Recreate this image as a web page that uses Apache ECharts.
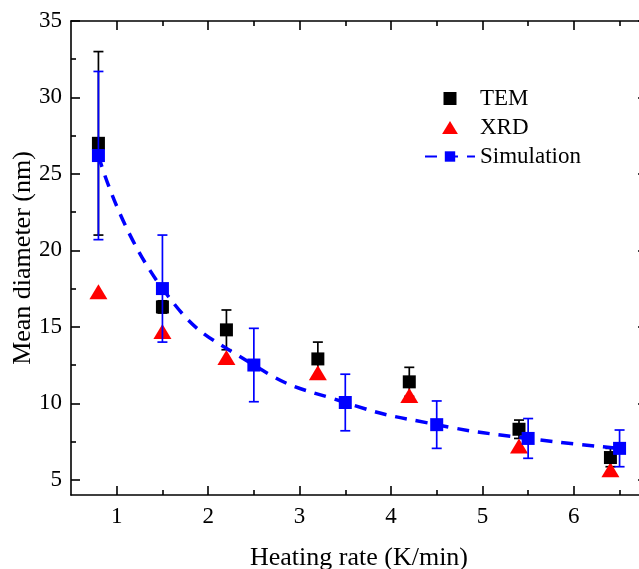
<!DOCTYPE html>
<html>
<head>
<meta charset="utf-8">
<script src="https://cdn.jsdelivr.net/npm/echarts@6/dist/echarts.min.js"></script>
<style>
  html, body { margin: 0; padding: 0; background: #fff; }
  #chart { width: 639px; height: 569px; }
</style>
</head>
<body>
<div id="chart"></div>
<script>
const rateExp = [0.8, 1.5, 2.2, 3.2, 4.2, 5.4, 6.4];
const temSize = [27.0, 16.3, 14.8, 12.9, 11.4, 8.3, 6.45];
const temErr = [6.0, 0.4, 1.3, 1.1, 0.95, 0.6, 0.6];
const xrdSize = [17.3, 14.7, 13.0, 12.0, 10.5, 7.2, 5.65];

const rateSim = [0.8, 1.5, 2.5, 3.5, 4.5, 5.5, 6.5];
const simSize = [26.2, 17.5, 12.5, 10.05, 8.6, 7.7, 7.05];
const simErr = [5.5, 3.5, 2.4, 1.85, 1.55, 1.3, 1.2];

const xTicks = [1, 2, 3, 4, 5, 6];
const xMinorTicks = [1.5, 2.5, 3.5, 4.5, 5.5, 6.5];
const yTicks = [5, 10, 15, 20, 25, 30, 35];
const yMinorTicks = [7.5, 12.5, 17.5, 22.5, 27.5, 32.5];

const font = 'Liberation Serif';
const squareIcon = 'path://M0,0 L12,0 L12,12 L0,12 Z';
const triangleIcon = 'path://M8.5,0 L17,14 L0,14 Z';

function pairs(xs, ys) {
  return xs.map((x, i) => [x, ys[i]]);
}
function errRows(xs, ys, es) {
  return xs.map((x, i) => [x, ys[i] - es[i], ys[i] + es[i]]);
}

function errorBars(color) {
  return function (params, api) {
    const x = api.value(0);
    const top = api.coord([x, api.value(2)]);
    const bot = api.coord([x, api.value(1)]);
    const w = 5;
    const style = { stroke: color, lineWidth: 1.7 };
    return {
      type: 'group',
      children: [
        { type: 'line', shape: { x1: top[0], y1: top[1], x2: bot[0], y2: bot[1] }, style: style },
        { type: 'line', shape: { x1: top[0] - w, y1: top[1], x2: top[0] + w, y2: top[1] }, style: style },
        { type: 'line', shape: { x1: bot[0] - w, y1: bot[1], x2: bot[0] + w, y2: bot[1] }, style: style }
      ]
    };
  };
}

function xAxisDef(position, major, withLabels) {
  return {
    type: 'value',
    position: position,
    min: 0.5,
    max: 6.8,
    offset: 0,
    name: withLabels ? 'Heating rate (K/min)' : '',
    nameLocation: 'middle',
    nameGap: 50,
    nameMoveOverlap: false,
    nameTextStyle: { fontFamily: font, fontSize: 26, color: '#000' },
    axisLine: { show: major, onZero: false, lineStyle: { color: '#000', width: 1.6 } },
    axisTick: {
      show: true,
      inside: true,
      length: major ? 9 : 5,
      customValues: major ? xTicks : xMinorTicks,
      lineStyle: { color: '#000', width: 1.6 }
    },
    axisLabel: {
      show: withLabels,
      customValues: xTicks,
      margin: 10,
      fontFamily: font,
      fontSize: 23,
      color: '#000'
    },
    splitLine: { show: false }
  };
}

function yAxisDef(position, major, withLabels) {
  return {
    type: 'value',
    position: position,
    min: 4,
    max: 35,
    offset: 0,
    name: withLabels ? 'Mean diameter (nm)' : '',
    nameLocation: 'middle',
    nameGap: 35,
    nameMoveOverlap: false,
    nameTextStyle: { fontFamily: font, fontSize: 26, color: '#000' },
    axisLine: { show: major, onZero: false, lineStyle: { color: '#000', width: 1.6 } },
    axisTick: {
      show: true,
      inside: true,
      length: major ? 9 : 5,
      customValues: major ? yTicks : yMinorTicks,
      lineStyle: { color: '#000', width: 1.6 }
    },
    axisLabel: {
      show: withLabels,
      customValues: yTicks,
      margin: 9,
      fontFamily: font,
      fontSize: 23,
      color: '#000'
    },
    splitLine: { show: false }
  };
}

const myChart = echarts.init(document.getElementById('chart'), null, { renderer: 'canvas' });

const option = {
  backgroundColor: '#fff',
  animation: false,
  grid: { left: 71, right: -8, top: 21, bottom: 74, containLabel: false, outerBoundsMode: 'none' },
  legend: {
    data: [
      { name: 'TEM', icon: squareIcon },
      { name: 'XRD', icon: triangleIcon },
      { name: 'Simulation' }
    ],
    orient: 'vertical',
    left: 419,
    top: 82,
    itemWidth: 50,
    itemHeight: 13,
    itemGap: 6,
    symbolKeepAspect: true,
    textStyle: { fontFamily: font, fontSize: 23, color: '#000' }
  },
  xAxis: [
    xAxisDef('bottom', true, true),
    xAxisDef('bottom', false, false),
    xAxisDef('top', true, false),
    xAxisDef('top', false, false)
  ],
  yAxis: [
    yAxisDef('left', true, true),
    yAxisDef('left', false, false),
    yAxisDef('right', true, false),
    yAxisDef('right', false, false)
  ],
  series: [
    {
      name: 'XRD',
      type: 'scatter',
      symbol: 'triangle',
      symbolSize: [18, 15],
      itemStyle: { color: '#ff0000', opacity: 1 },
      data: pairs(rateExp, xrdSize),
      z: 2
    },
    {
      name: 'TEM',
      type: 'scatter',
      symbol: 'rect',
      symbolSize: 13,
      itemStyle: { color: '#000', opacity: 1 },
      data: pairs(rateExp, temSize),
      z: 2
    },
    {
      name: 'TEM err',
      type: 'custom',
      renderItem: errorBars('#000'),
      encode: { x: 0, y: [1, 2] },
      data: errRows(rateExp, temSize, temErr),
      z: 2
    },
    {
      name: 'Sim err',
      type: 'custom',
      renderItem: errorBars('#0000ff'),
      encode: { x: 0, y: [1, 2] },
      data: errRows(rateSim, simSize, simErr),
      z: 3
    },
    {
      name: 'Simulation',
      type: 'line',
      smooth: 0.5,
      symbol: 'rect',
      symbolSize: 13,
      itemStyle: { color: '#0000ff', opacity: 1 },
      lineStyle: { color: '#0000ff', width: 3.5, type: [12, 9] },
      data: pairs(rateSim, simSize),
      z: 4
    }
  ]
};

option && myChart.setOption(option);
</script>
</body>
</html>
